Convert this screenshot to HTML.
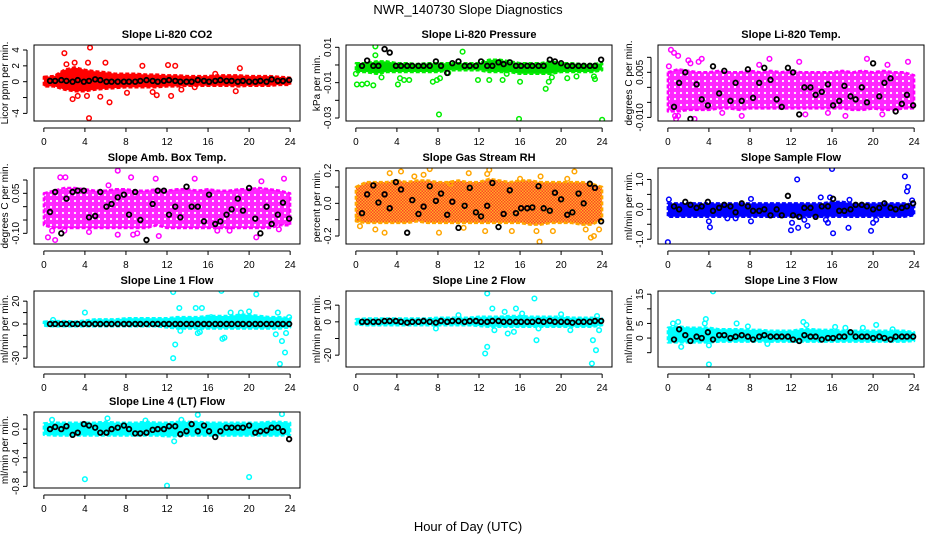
<!DOCTYPE html>
<html><head><meta charset="utf-8"><style>
html,body{margin:0;padding:0;background:#fff;}
svg{display:block;font-family:"Liberation Sans",sans-serif;}
</style></head><body>
<svg id="chart" width="936" height="540" viewBox="0 0 936 540" xmlns="http://www.w3.org/2000/svg">
<defs>
<pattern id="rhPat" width="3" height="3" patternUnits="userSpaceOnUse">
<rect width="3" height="3" fill="#ffa500"/><rect x="0" y="0" width="1.5" height="1.5" fill="#ff2000"/><rect x="1.5" y="1.5" width="1.5" height="1.5" fill="#ff2000"/>
</pattern>
<pattern id="magPat" width="6" height="6" patternUnits="userSpaceOnUse">
<rect width="6" height="6" fill="#ff00ff"/><circle cx="3" cy="3" r="1.1" fill="#fff"/>
</pattern>
</defs>
<text x="468" y="14" text-anchor="middle" font-size="13">NWR_140730  Slope Diagnostics</text>
<text x="468" y="531" text-anchor="middle" font-size="13">Hour of Day (UTC)</text>
</svg>
<script>
// shared x positions (hours) for black points
const blackX=[0.6,1.1,1.7,2.2,2.8,3.3,3.9,4.4,5,5.5,6.1,6.6,7.2,7.8,8.3,8.9,9.4,10,10.6,11.1,11.7,12.2,12.8,13.3,13.9,14.4,15,15.6,16.1,16.7,17.2,17.8,18.3,18.9,19.4,20,20.6,21.1,21.7,22.2,22.8,23.3,23.9];
const bandHours=[0,1,2,3,4,5,6,7,8,9,10,11,12,13,14,15,16,17,18,19,20,21,22,23,24];
const xTicks=[0,4,8,12,16,20,24];

// P1 CO2
const co2Ticks=[-4,-2,0,2,4]; const co2TickLabels=["-4","","0","2","4"];
const co2Lo=[-0.6,-0.6,-1.0,-1.2,-1.2,-1.0,-0.9,-0.8,-0.7,-0.7,-0.7,-0.7,-0.6,-0.6,-0.5,-0.5,-0.5,-0.5,-0.5,-0.6,-0.5,-0.5,-0.5,-0.4,-0.4];
const co2Hi=[0.6,0.7,1.5,1.8,1.5,1.3,1.2,1.0,1.0,1.0,0.9,0.9,0.8,0.8,0.7,0.7,0.7,0.8,0.8,0.8,0.7,0.7,0.7,0.6,0.5];
const co2OutX=[2,4.5,4.4,2.8,3.3,4.2,6.4,6,4.3,2.2,9.6,12.1,12.8,12.4,11,13.4,10.6,19.1,18.7,5.5,3.0,8.1,16.7,14.7];
const co2OutY=[3.6,4.3,-4.6,-2.2,-1.8,-1.8,-2.6,2.4,2.4,2.2,2.0,2.1,2.0,-1.8,-1.7,-1.0,-1.3,1.7,-1.2,-1.9,2.4,-1.4,1.0,-0.7];
const co2BlackY=[0.1,0.1,0.2,0.1,0,0.2,0,0.1,0.3,0.2,0,0,0,0,0,0,0.1,0.2,0.1,0,0.1,0.2,0.1,0,0,0,0.2,0.1,0,0.1,0.2,0.1,0.1,0,0.1,0,0,0.1,0,0.3,0.1,0.1,0.2];

// P2 pressure
const presTicks=[-0.03,-0.02,-0.01,0,0.01]; const presTickLabels=["-0.03","","-0.01","","0.01"];
const presLo=[-0.004,-0.004,-0.005,-0.004,-0.004,-0.004,-0.004,-0.004,-0.004,-0.003,-0.003,-0.003,-0.003,-0.004,-0.004,-0.004,-0.005,-0.005,-0.005,-0.005,-0.004,-0.004,-0.004,-0.004,-0.003];
const presHi=[0.001,0.001,0.002,0.002,0.001,0.001,0.0005,0.001,0.001,0.001,0.001,0.001,0.001,0.003,0.003,0.002,0.001,0.001,0.001,0.002,0.001,0.001,0.0005,0.0005,0.001];
const presOutX=[0.1,0.6,1.1,1.7,1.9,1.9,2.5,4.1,4.3,4.7,5.2,7.5,7.9,8.1,8.2,10.4,11.9,13,14.3,14.7,15.9,16,18.5,18.8,19.1,20.6,21.5,23.2,23.3,24,0.0,9.0];
const presOutY=[-0.011,-0.011,-0.0105,-0.0115,0.0105,0.0055,-0.007,-0.011,-0.0075,-0.0085,-0.0085,-0.0095,-0.0085,-0.028,-0.0075,0.0075,-0.0085,-0.0085,-0.0085,-0.005,-0.0305,-0.0095,-0.0135,-0.0095,-0.007,-0.0075,-0.0065,-0.0065,-0.008,-0.031,-0.005,-0.0045];
const presBlackY=[-0.0005,0.0025,-0.0005,-0.0005,0.009,0.007,-0.0005,-0.0005,-0.0005,-0.0005,-0.0005,-0.0005,-0.0005,0.002,-0.0005,-0.0045,0.001,0.002,-0.0005,-0.0005,-0.0005,0.002,-0.0005,-0.0005,0.0015,0.0005,0.0015,-0.0005,-0.0005,-0.0005,-0.0005,-0.0005,-0.0005,0.003,0.002,0.001,-0.0005,-0.0005,-0.0005,-0.0005,-0.0005,-0.0005,0.003];

// P3 Li-820 temp
const tempTicks=[-0.01,-0.005,0,0.005,0.01]; const tempTickLabels=["-0.010","","","0.005",""];
const tempLo=[-0.008,-0.008,-0.0075,-0.0075,-0.0075,-0.007,-0.007,-0.0075,-0.007,-0.007,-0.007,-0.007,-0.007,-0.007,-0.007,-0.007,-0.007,-0.007,-0.0075,-0.0075,-0.007,-0.0075,-0.0075,-0.007,-0.007];
const tempHi=[0.005,0.006,0.0055,0.005,0.005,0.0055,0.005,0.005,0.0055,0.005,0.0055,0.005,0.0055,0.005,0.005,0.005,0.005,0.0055,0.005,0.0055,0.005,0.0055,0.005,0.005,0.004];
const tempOutX=[0.3,0.6,1.0,0.1,2.0,2.2,3.3,3.0,0.7,1.0,0.8,2.6,7.2,9.9,12.8,13.4,17.3,19.4,20.9,21.4,23.4,8.9,5.3,15.6];
const tempOutY=[0.0125,0.0115,0.0105,0.007,0.009,0.008,0.0095,0.0085,-0.0095,-0.0095,-0.0105,-0.0105,-0.0095,0.0095,0.0085,-0.009,-0.0095,0.0095,-0.009,0.0075,0.0085,0.0075,-0.0085,-0.0085];
const tempBlackY=[-0.0065,0.0015,0.005,-0.0105,0.001,-0.004,-0.006,0.007,-0.002,0.0055,-0.0045,0.0015,-0.0045,0.006,-0.0035,0.0015,0.0065,0.0025,-0.004,-0.0065,0.0065,0.005,-0.009,0,0,-0.0025,-0.0015,0.001,-0.006,-0.0045,0.0005,-0.003,-0.004,0,-0.005,0.008,-0.003,0.0015,0.003,-0.008,-0.0055,-0.0025,-0.006];

// P4 amb box temp
const ambTicks=[-0.1,-0.05,0,0.05,0.1]; const ambTickLabels=["-0.10","","","0.05",""];
const ambLo=[-0.07,-0.08,-0.08,-0.08,-0.08,-0.08,-0.08,-0.08,-0.08,-0.08,-0.08,-0.07,-0.08,-0.08,-0.08,-0.08,-0.08,-0.08,-0.08,-0.08,-0.08,-0.08,-0.08,-0.07,-0.07];
const ambHi=[0.05,0.06,0.07,0.07,0.065,0.06,0.06,0.065,0.065,0.06,0.06,0.065,0.06,0.065,0.065,0.06,0.065,0.06,0.06,0.065,0.065,0.07,0.065,0.06,0.05];
const ambOutX=[1.6,2.1,6.3,7.2,8.5,10.9,14.7,21.2,23.4,0.4,1.1,7.2,8.7,9.1,11.2,20.7,22.9,2.0,16.9,18.1,4.4,0.8];
const ambOutY=[0.11,0.11,0.08,0.135,0.11,0.105,0.105,0.095,0.105,-0.115,-0.125,-0.105,-0.105,-0.10,-0.11,-0.115,-0.085,-0.09,-0.09,-0.09,-0.095,-0.09];
const ambBlackY=[-0.02,0.055,-0.10,0.03,0.055,0.06,0.06,-0.04,-0.035,0.055,0,0.01,0.035,0.045,-0.03,0.055,-0.05,-0.125,0.01,0.06,0.06,-0.03,0,-0.04,0.075,0,0,-0.055,0.045,-0.065,-0.055,-0.03,-0.01,0.03,-0.015,0.07,-0.045,-0.10,0,-0.065,-0.03,0.015,-0.045];

// P5 RH
const rhTicks=[-0.2,-0.1,0,0.1,0.2]; const rhTickLabels=["-0.2","","0.0","","0.2"];
const rhLo=[-0.11,-0.12,-0.12,-0.12,-0.12,-0.12,-0.11,-0.12,-0.12,-0.12,-0.12,-0.12,-0.12,-0.12,-0.12,-0.12,-0.12,-0.13,-0.13,-0.12,-0.12,-0.12,-0.13,-0.13,-0.1];
const rhHi=[0.1,0.13,0.13,0.13,0.14,0.13,0.14,0.14,0.13,0.13,0.14,0.13,0.13,0.15,0.14,0.13,0.14,0.14,0.13,0.13,0.13,0.13,0.13,0.12,0.1];
const rhOutX=[0.4,1.9,2.8,3.3,4.4,5.7,6.6,7.2,8.1,9.2,11,12.8,13,12.6,15.2,16,17.6,17.9,18,19.2,20.6,21.3,22.4,22.9,23.2,23.7,0.2,10.5];
const rhOutY=[-0.14,-0.16,-0.18,0.185,0.195,0.165,0.175,0.21,-0.18,0.12,0.185,0.18,0.205,-0.17,-0.17,0.15,-0.17,-0.235,0.165,-0.17,0.15,0.195,-0.16,-0.21,-0.2,-0.16,-0.1,-0.15];
const rhBlackY=[-0.06,0.055,0.11,0.005,0.055,-0.03,0.13,0.085,-0.18,0.02,-0.065,-0.02,0.105,0.015,0.06,-0.07,0.01,-0.15,-0.015,0.095,-0.055,-0.08,-0.015,0.125,-0.145,-0.065,0.08,-0.06,-0.03,-0.03,-0.025,0.105,-0.03,-0.045,0.065,0.025,-0.07,-0.055,0.06,0.0,0.12,0.095,-0.11];

// P6 sample flow
const sfTicks=[-1,-0.5,0,0.5,1]; const sfTickLabels=["-1.0","","0.0","","1.0"];
const sfLo=[-0.25,-0.25,-0.25,-0.25,-0.25,-0.25,-0.25,-0.25,-0.25,-0.25,-0.25,-0.25,-0.25,-0.25,-0.25,-0.25,-0.25,-0.25,-0.25,-0.25,-0.25,-0.25,-0.25,-0.25,-0.2];
const sfHi=[0.2,0.2,0.2,0.2,0.2,0.2,0.2,0.2,0.2,0.2,0.2,0.2,0.2,0.2,0.2,0.2,0.25,0.25,0.2,0.2,0.2,0.2,0.2,0.2,0.15];
const sfOutX=[0,0.1,4.0,4.1,5.8,8.1,12.1,12.0,12.6,12.7,13.3,13.6,15.4,15.6,16.0,16.1,15.8,17.6,17.7,19.8,20.0,20.3,23.1,23.4,23.3,23.8,14.9,6.6,8.1];
const sfOutY=[-1.1,0.33,-0.4,-0.6,-0.3,-0.4,-0.45,-0.7,1.0,-0.62,-0.35,-0.55,-0.35,-0.45,1.35,-0.8,0.4,-0.62,0.32,-0.72,-0.45,-0.35,1.1,0.75,0.6,0.3,0.4,-0.3,0.35];
const sfBlackY=[0.1,0.0,0.25,0.15,0.05,0.1,0.25,-0.05,0.05,0.15,0.1,-0.1,0.2,0.1,-0.05,-0.05,0.0,-0.2,0.0,-0.2,0.45,-0.2,-0.25,0.05,0.05,-0.25,0.1,0.1,0.35,-0.05,-0.05,0.0,0.15,0.15,0.1,0.0,0.05,0.2,0.05,0.0,0.05,0.1,0.2];

// P7 line 1
const l1Ticks=[-30,-20,-10,0,10,20]; const l1TickLabels=["-30","","","0","","20"];
const l1Lo=[-1.5,-2,-2,-2,-2,-2,-2,-2,-2,-2,-2,-2,-3,-4,-4,-4,-4,-4,-4,-4,-4,-4,-4,-4,-3];
const l1Hi=[2,2.5,2.5,2,3,4,4,4,5,5,5,5,5,6,6,6,7,7,7,8,8,7,6,6,5];
const l1OutX=[4,0.9,12.6,12.6,12.8,13.2,14.8,15.2,15.4,17.3,17.4,17.6,20.7,23.0,23.2,23.5,23.6,22.8,22.6,18.2,19.2,20.0,23.9,16.3,15.0,13.3,14.0];
const l1OutY=[10,3.5,28,-30,-18,14,14,-7,14,29,-13,-12,26,-35,-15,-25,-8,10,-9,10,10,11,6,6,-8,-6,3];
const l1BlackY=[0,0,0,0,0,0,0,0,0,0,0,0,0,0,0,0,0,0,0,0,0,0,0,0,0,0,0,0,0,0,0,0,0,0,0,0,0,0,0,0,0,0,0];

// P8 line 2
const l2Ticks=[-20,-10,0,10]; const l2TickLabels=["-20","","0","10"];
const l2Lo=[-1.5,-2,-2,-2,-2,-2,-2,-2,-2,-2,-2,-2,-2.5,-3,-3,-3,-3,-3,-3,-3,-3,-3,-3,-3,-2];
const l2Hi=[1.5,2,2,2,2,2,2,2,2.5,2.5,2.5,2.5,3,3,3,3.5,3.5,3,3,3,3,2.5,2.5,2.5,2];
const l2OutX=[12.8,17.4,13.3,15.6,14.5,12.6,12.8,13.5,14.8,15.4,17.6,17.8,20,20.9,23.0,23.1,23.4,23.7,23.5,7.8,10,16.2];
const l2OutY=[17,14,8,8,6,-19,-15,-5,-7,-6,-11,-4,4.5,-5,-25,-11,-17,-5,3.5,-4,4,5];
const l2BlackY=[0,0,0,0,0.5,0.5,0.5,0,-0.5,0,0,0.5,0,-0.5,0.5,0,0.5,0.5,0,0.5,0.5,0,0,0.5,0.5,0,0,0,0,0,0,0.5,0,0.5,0,0,0,-0.5,0,0,0,0.5,0.5];

// P9 line 3
const l3Ticks=[-10,-5,0,5,10,15]; const l3TickLabels=["-10","","0","5","","15"];
const l3Lo=[-1.5,-1.5,-1.5,-1.5,-1.5,-1.2,-1.2,-1.2,-1.2,-1.2,-1.2,-1.2,-1.2,-1.2,-1.2,-1.2,-1.2,-1.2,-1.2,-1.2,-1.2,-1.2,-1.2,-1.2,-1];
const l3Hi=[3.5,4,3.5,3.5,3.5,3,3,3,2.8,2.8,2.5,2.5,2.5,3,3,2.8,2.8,2.5,2.5,2.5,2.5,2.5,2.5,2.5,2];
const l3OutX=[4.4,4,1.0,0.5,3.7,3.6,1.3,6.7,7.8,13.2,13.5,16.3,19.0,20.3,21.9,9.7,17.3,4.0];
const l3OutY=[16,-9,5.5,5,6.5,5,-3,5,4,5.5,4.5,3.8,3.5,4.5,3,-2,3.5,-2.5];
const l3BlackY=[-0.5,3,1,-1,0.5,0,2,-0.5,1,1,0,0.5,1,0.5,-0.5,0.5,1,0.5,0.5,0.5,0.5,-0.5,-1,1,0.5,0.5,-0.5,0,0,0.5,0.5,2,0.5,0.5,0.5,0,0.5,0,-0.5,0.5,0.5,0.5,0.5];

// P10 line 4 LT
const l4Ticks=[-0.8,-0.6,-0.4,-0.2,0,0.2]; const l4TickLabels=["-0.8","","-0.4","","0.0",""];
const l4Lo=[-0.08,-0.09,-0.09,-0.09,-0.09,-0.09,-0.09,-0.09,-0.09,-0.09,-0.09,-0.09,-0.1,-0.1,-0.09,-0.09,-0.09,-0.09,-0.09,-0.09,-0.09,-0.09,-0.09,-0.09,-0.08];
const l4Hi=[0.08,0.09,0.09,0.09,0.09,0.09,0.1,0.09,0.09,0.09,0.1,0.09,0.09,0.1,0.1,0.1,0.09,0.09,0.09,0.09,0.09,0.09,0.1,0.1,0.09];
const l4OutX=[0.8,6.2,23.2,15,4,12,20,12.7,13.4,9.9];
const l4OutY=[0.13,0.15,0.21,0.2,-0.7,-0.79,-0.67,-0.17,0.13,0.12];
const l4BlackY=[0,0.03,0,0.04,-0.08,-0.05,0.07,0.05,0.02,-0.05,-0.05,0,0.02,0.05,0,-0.06,-0.06,-0.05,-0.01,0,0,0.04,0.04,-0.07,-0.03,0.07,-0.03,0.05,-0.03,-0.11,-0.03,0.02,0.02,0.02,0.02,0.05,-0.05,-0.03,-0.02,0.02,0.02,-0.03,-0.14];

const panels=[
 {key:"co2",title:"Slope Li-820 CO2",ylab:"Licor ppm per min.",col:0,row:0,ylim:[-4.96,4.63],ticks:co2Ticks,tl:co2TickLabels,lo:co2Lo,hi:co2Hi,ox:co2OutX,oy:co2OutY,by:co2BlackY,color:"#ff0000",fill:"#ff0000",op:1},
 {key:"pressure",title:"Slope Li-820 Pressure",ylab:"kPa per min.",col:1,row:0,ylim:[-0.0317,0.0113],ticks:presTicks,tl:presTickLabels,lo:presLo,hi:presHi,ox:presOutX,oy:presOutY,by:presBlackY,color:"#00ee00",fill:"#00dd00",op:1},
 {key:"li820-temp",title:"Slope Li-820 Temp.",ylab:"degrees C per min.",col:2,row:0,ylim:[-0.0112,0.0141],ticks:tempTicks,tl:tempTickLabels,lo:tempLo,hi:tempHi,ox:tempOutX,oy:tempOutY,by:tempBlackY,color:"#ff00ff",fill:"url(#magPat)",op:0.85},
 {key:"amb-box-temp",title:"Slope Amb. Box Temp.",ylab:"degrees C per min.",col:0,row:1,ylim:[-0.140,0.145],ticks:ambTicks,tl:ambTickLabels,lo:ambLo,hi:ambHi,ox:ambOutX,oy:ambOutY,by:ambBlackY,color:"#ff00ff",fill:"url(#magPat)",op:0.85},
 {key:"gas-stream-rh",title:"Slope Gas Stream RH",ylab:"percent per min.",col:1,row:1,ylim:[-0.249,0.2165],ticks:rhTicks,tl:rhTickLabels,lo:rhLo,hi:rhHi,ox:rhOutX,oy:rhOutY,by:rhBlackY,color:"#ffa500",fill:"url(#rhPat)",op:0.85},
 {key:"sample-flow",title:"Slope Sample Flow",ylab:"ml/min per min.",col:2,row:1,ylim:[-1.16,1.383],ticks:sfTicks,tl:sfTickLabels,lo:sfLo,hi:sfHi,ox:sfOutX,oy:sfOutY,by:sfBlackY,color:"#0000ff",fill:"#0000ff",op:1},
 {key:"line1-flow",title:"Slope Line 1 Flow",ylab:"ml/min per min.",col:0,row:2,ylim:[-37.7,28.9],ticks:l1Ticks,tl:l1TickLabels,lo:l1Lo,hi:l1Hi,ox:l1OutX,oy:l1OutY,by:l1BlackY,color:"#00ffff",fill:"#00ffff",op:1},
 {key:"line2-flow",title:"Slope Line 2 Flow",ylab:"ml/min per min.",col:1,row:2,ylim:[-27.1,18.5],ticks:l2Ticks,tl:l2TickLabels,lo:l2Lo,hi:l2Hi,ox:l2OutX,oy:l2OutY,by:l2BlackY,color:"#00ffff",fill:"#00ffff",op:1},
 {key:"line3-flow",title:"Slope Line 3 Flow",ylab:"ml/min per min.",col:2,row:2,ylim:[-9.9,16.1],ticks:l3Ticks,tl:l3TickLabels,lo:l3Lo,hi:l3Hi,ox:l3OutX,oy:l3OutY,by:l3BlackY,color:"#00ffff",fill:"#00ffff",op:1},
 {key:"line4-lt-flow",title:"Slope Line 4 (LT) Flow",ylab:"ml/min per min.",col:0,row:3,ylim:[-0.823,0.239],ticks:l4Ticks,tl:l4TickLabels,lo:l4Lo,hi:l4Hi,ox:l4OutX,oy:l4OutY,by:l4BlackY,color:"#00ffff",fill:"#00ffff",op:1}
];

const NS="http://www.w3.org/2000/svg";
const svg=document.getElementById("chart");
const colLeft=[34,346,658], boxW=266;
const rowTop=[45,168,291,412], boxH=76;
function mk(tag,attrs,parent){const e=document.createElementNS(NS,tag);for(const k in attrs)e.setAttribute(k,attrs[k]);parent.appendChild(e);return e;}

panels.forEach(p=>{
  const L=colLeft[p.col], T=rowTop[p.row], R=L+boxW, B=T+boxH;
  const g=mk("g",{},svg);
  
  
  const xs=h=>L+(h+0.96)/25.92*boxW;
  const ys=v=>B-(v-p.ylim[0])/(p.ylim[1]-p.ylim[0])*boxH;
  const clip=mk("clipPath",{id:"clip-"+p.key},g);
  mk("rect",{x:L,y:T,width:boxW,height:boxH},clip);
  const plot=mk("g",{"clip-path":"url(#clip-"+p.key+")"},g);
  let pts=[];
  bandHours.forEach((h,i)=>pts.push(xs(h).toFixed(1)+","+ys(p.hi[i]).toFixed(1)));
  for(let i=bandHours.length-1;i>=0;i--)pts.push(xs(bandHours[i]).toFixed(1)+","+ys(p.lo[i]).toFixed(1));
  const band=mk("polygon",{points:pts.join(" "),fill:p.fill,"fill-opacity":p.op,stroke:p.color,"stroke-width":2.5,"stroke-linejoin":"round","stroke-dasharray":"4 2"},plot);
  
  
  p.ox.forEach((x,i)=>{
    const c=mk("circle",{cx:xs(x),cy:ys(p.oy[i]),r:2.3,fill:"none",stroke:p.color,"stroke-width":1.5},plot);
    
    
  });
  blackX.forEach((x,i)=>{
    const c=mk("circle",{cx:xs(x),cy:ys(p.by[i]),r:2.3,fill:"none",stroke:"#000","stroke-width":1.8},plot);
    
    
  });
  const box=mk("rect",{x:L,y:T,width:boxW,height:boxH,fill:"none",stroke:"#000","stroke-width":1},g);
  
  
  const t=mk("text",{x:(L+R)/2,y:T-7,"text-anchor":"middle","font-size":11,"font-weight":"bold"},g);
  t.textContent=p.title;
  
  
  mk("line",{x1:xs(0),x2:xs(24),y1:B+7,y2:B+7,stroke:"#000","stroke-width":1},g);
  xTicks.forEach(h=>{
    mk("line",{x1:xs(h),x2:xs(h),y1:B+7,y2:B+11,stroke:"#000","stroke-width":1},g);
    const tx=mk("text",{x:xs(h),y:B+24,"text-anchor":"middle","font-size":10},g);
    tx.textContent=String(h);
    
    
  });
  const yt=p.ticks.filter(v=>v>=p.ylim[0]&&v<=p.ylim[1]);
  mk("line",{x1:L-7,x2:L-7,y1:ys(Math.min(...yt)),y2:ys(Math.max(...yt)),stroke:"#000","stroke-width":1},g);
  p.ticks.forEach((v,i)=>{
    if(v<p.ylim[0]||v>p.ylim[1])return;
    mk("line",{x1:L-11,x2:L-7,y1:ys(v),y2:ys(v),stroke:"#000","stroke-width":1},g);
    if(p.tl[i]){
      const ty=mk("text",{x:L-15,y:ys(v),"text-anchor":"middle","font-size":10,transform:"rotate(-90 "+(L-15)+" "+ys(v)+")"},g);
      ty.textContent=p.tl[i];
      
      
    }
  });
  const yl=mk("text",{x:L-26,y:(T+B)/2,"text-anchor":"middle","font-size":10,transform:"rotate(-90 "+(L-26)+" "+((T+B)/2)+")"},g);
  yl.textContent=p.ylab;
  
  
});
</script>
</body></html>
